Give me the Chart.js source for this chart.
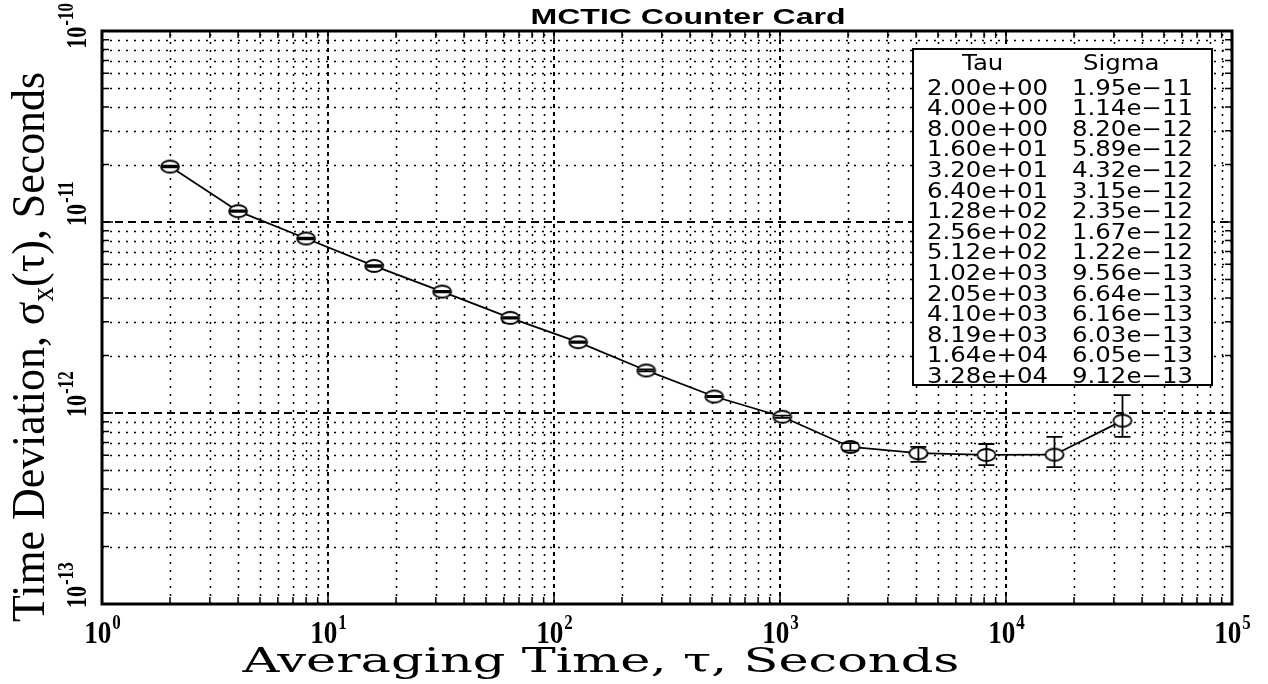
<!DOCTYPE html>
<html>
<head>
<meta charset="utf-8">
<script src="https://cdn.jsdelivr.net/npm/chart.js@4.4.0/dist/chart.umd.min.js"></script>
<style>
  html, body { margin: 0; padding: 0; background: #fff; }
  #wrap { width: 1268px; height: 684px; }
</style>
</head>
<body>
<div id="wrap"><canvas id="myChart" width="1268" height="684"></canvas></div>
<script>
// averaging times (s) and time deviation (s)
const tau = [2, 4, 8, 16, 32, 64, 128, 256, 512, 1024, 2048, 4096, 8192, 16384, 32768];
const sigma = [1.95e-11, 1.14e-11, 8.20e-12, 5.89e-12, 4.32e-12, 3.15e-12, 2.35e-12, 1.67e-12,
  1.22e-12, 9.56e-13, 6.64e-13, 6.16e-13, 6.03e-13, 6.05e-13, 9.12e-13];
// error bar ends
const sigmaHigh = [1.97e-11, 1.15e-11, 8.28e-12, 5.95e-12, 4.36e-12, 3.18e-12, 2.37e-12, 1.69e-12,
  1.23e-12, 9.70e-13, 6.95e-13, 6.65e-13, 6.88e-13, 7.49e-13, 1.24e-12];
const sigmaLow = [1.93e-11, 1.13e-11, 8.12e-12, 5.83e-12, 4.28e-12, 3.12e-12, 2.33e-12, 1.65e-12,
  1.21e-12, 9.42e-13, 6.35e-13, 5.55e-13, 5.34e-13, 5.21e-13, 7.49e-13];

// table text
const tauLabels = ["2.00e+00", "4.00e+00", "8.00e+00", "1.60e+01", "3.20e+01", "6.40e+01", "1.28e+02",
  "2.56e+02", "5.12e+02", "1.02e+03", "2.05e+03", "4.10e+03", "8.19e+03", "1.64e+04", "3.28e+04"];
const sigmaLabels = ["1.95e-11", "1.14e-11", "8.20e-12", "5.89e-12", "4.32e-12", "3.15e-12", "2.35e-12",
  "1.67e-12", "1.22e-12", "9.56e-13", "6.64e-13", "6.16e-13", "6.03e-13", "6.05e-13", "9.12e-13"];

// decade exponents on each axis
const xTickExp = [0, 1, 2, 3, 4, 5];
const yTickExp = [-13, -12, -11, -10];

const title = "MCTIC Counter Card";
const xTitle = "Averaging Time, \u03c4, Seconds";
const yTitleParts = ["Time Deviation, \u03c3", "x", "(\u03c4), Seconds"];

const SERIF = '"Liberation Serif", "Times New Roman", serif';
const WIDE_SERIF = '"DejaVu Serif", serif';

// hollow ellipse marker
function makeMarker() {
  const c = document.createElement("canvas");
  c.width = 22; c.height = 16;
  const g = c.getContext("2d");
  g.beginPath();
  g.ellipse(11, 8, 9, 6, 0, 0, Math.PI * 2);
  g.fillStyle = "#fff";
  g.fill();
  g.lineWidth = 1.8;
  g.strokeStyle = "#000";
  g.stroke();
  return c;
}

// text squeezed/stretched horizontally to a given width
function fitText(ctx, text, x, y, font, width, align) {
  ctx.save();
  ctx.font = font;
  const w = ctx.measureText(text).width;
  const s = width / w;
  let left = x;
  if (align === "center") left = x - width / 2;
  ctx.translate(left, y);
  ctx.scale(s, 1);
  ctx.textAlign = "left";
  ctx.fillText(text, 0, 0);
  ctx.restore();
}

const plotArt = {
  id: "plotArt",
  beforeDatasetsDraw(chart) {
    const { ctx, chartArea: a, scales: { x, y } } = chart;
    ctx.save();
    ctx.strokeStyle = "#000";
    // minor grid, dotted
    ctx.lineWidth = 1.5;
    ctx.setLineDash([2, 6]);
    xTickExp.slice(0, -1).forEach((e) => {
      for (let m = 2; m <= 9; m++) {
        const px = Math.round(x.getPixelForValue(m * Math.pow(10, e))) + 0.5;
        ctx.beginPath(); ctx.moveTo(px, a.bottom); ctx.lineTo(px, a.top); ctx.stroke();
      }
    });
    yTickExp.slice(0, -1).forEach((e) => {
      for (let m = 2; m <= 9; m++) {
        const py = Math.round(y.getPixelForValue(m * Math.pow(10, e))) + 0.5;
        ctx.beginPath(); ctx.moveTo(a.left, py); ctx.lineTo(a.right, py); ctx.stroke();
      }
    });
    // decade grid, dashed
    ctx.lineWidth = 2;
    ctx.setLineDash([4, 4]);
    xTickExp.slice(1, -1).forEach((e) => {
      const px = Math.round(x.getPixelForValue(Math.pow(10, e)));
      ctx.beginPath(); ctx.moveTo(px, a.bottom); ctx.lineTo(px, a.top); ctx.stroke();
    });
    ctx.setLineDash([8, 5]);
    yTickExp.slice(1, -1).forEach((e) => {
      const py = Math.round(y.getPixelForValue(Math.pow(10, e)));
      ctx.beginPath(); ctx.moveTo(a.left, py); ctx.lineTo(a.right, py); ctx.stroke();
    });
    ctx.restore();
  },
  afterDatasetsDraw(chart) {
    const { ctx, scales: { x, y } } = chart;
    ctx.save();
    ctx.strokeStyle = "#000";
    ctx.lineWidth = 1.8;
    tau.forEach((t, i) => {
      const px = x.getPixelForValue(t);
      const yh = y.getPixelForValue(sigmaHigh[i]);
      const yl = y.getPixelForValue(sigmaLow[i]);
      ctx.beginPath();
      ctx.moveTo(px, yh); ctx.lineTo(px, yl);
      ctx.moveTo(px - 8, yh); ctx.lineTo(px + 8, yh);
      ctx.moveTo(px - 8, yl); ctx.lineTo(px + 8, yl);
      ctx.stroke();
    });
    ctx.restore();
  },
  afterDraw(chart) {
    const { ctx, chartArea: a, scales: { x, y } } = chart;
    ctx.save();
    ctx.fillStyle = "#000";
    ctx.strokeStyle = "#000";

    // inward tick marks on all four sides
    ctx.lineWidth = 1.5;
    xTickExp.forEach((e, k) => {
      for (let m = 1; m <= 9; m++) {
        if (m > 1 && k === xTickExp.length - 1) break;
        const px = x.getPixelForValue(m * Math.pow(10, e));
        const len = m === 1 ? 11 : 7;
        ctx.beginPath();
        ctx.moveTo(px, a.bottom); ctx.lineTo(px, a.bottom - len);
        ctx.moveTo(px, a.top); ctx.lineTo(px, a.top + len);
        ctx.stroke();
      }
    });
    yTickExp.forEach((e, k) => {
      for (let m = 1; m <= 9; m++) {
        if (m > 1 && k === yTickExp.length - 1) break;
        const py = y.getPixelForValue(m * Math.pow(10, e));
        const len = m === 1 ? 11 : 7;
        ctx.beginPath();
        ctx.moveTo(a.left, py); ctx.lineTo(a.left + len, py);
        ctx.moveTo(a.right, py); ctx.lineTo(a.right - len, py);
        ctx.stroke();
      }
    });

    // frame
    ctx.lineWidth = 3;
    ctx.strokeRect(a.left, a.top, a.right - a.left, a.bottom - a.top);

    // x tick labels 10^n
    xTickExp.forEach((e) => {
      const px = x.getPixelForValue(Math.pow(10, e));
      ctx.font = "bold 32px " + SERIF;
      const wb = ctx.measureText("10").width * 0.85;
      ctx.font = "bold 20px " + SERIF;
      const ws = ctx.measureText(String(e)).width * 0.85;
      let left = px - (wb + ws) / 2;
      left = Math.min(left, 1262 - wb - ws);
      left = Math.max(left, 84);
      ctx.save();
      ctx.translate(left, 643);
      ctx.scale(0.85, 1);
      ctx.font = "bold 32px " + SERIF;
      ctx.fillText("10", 0, 0);
      ctx.font = "bold 20px " + SERIF;
      ctx.fillText(String(e), wb / 0.85 + 1, -14);
      ctx.restore();
    });

    // y tick labels 10^n, rotated
    yTickExp.forEach((e) => {
      const py = y.getPixelForValue(Math.pow(10, e));
      ctx.font = "bold 22px " + SERIF;
      const wb = ctx.measureText("10").width;
      ctx.font = "bold 17px " + SERIF;
      const ws = ctx.measureText(String(e)).width;
      const start = Math.max(py + 4, wb + ws + 4);
      ctx.save();
      ctx.translate(86, start);
      ctx.rotate(-Math.PI / 2);
      ctx.scale(1, 1.3);
      ctx.font = "bold 22px " + SERIF;
      ctx.fillText("10", 0, 0);
      ctx.font = "bold 17px " + SERIF;
      ctx.fillText(String(e), wb + 1, -10);
      ctx.restore();
    });

    // x axis title
    fitText(ctx, xTitle, 601, 672, "34px " + WIDE_SERIF, 717, "center");

    // y axis title, rotated with subscript
    ctx.save();
    ctx.font = "36px " + SERIF;
    const w1 = ctx.measureText(yTitleParts[0]).width;
    const w3 = ctx.measureText(yTitleParts[2]).width;
    ctx.font = "24px " + SERIF;
    const w2 = ctx.measureText(yTitleParts[1]).width;
    const total = w1 + w2 + w3;
    const sLen = 550 / total;
    ctx.translate(44, 622);
    ctx.rotate(-Math.PI / 2);
    ctx.scale(sLen, 1.3);
    ctx.font = "36px " + SERIF;
    ctx.fillText(yTitleParts[0], 0, 0);
    ctx.font = "24px " + SERIF;
    ctx.fillText(yTitleParts[1], w1, 7);
    ctx.font = "36px " + SERIF;
    ctx.fillText(yTitleParts[2], w1 + w2, 0);
    ctx.restore();

    // title
    fitText(ctx, title, 688, 24, 'bold 22px "Liberation Sans", Arial, sans-serif', 315, "center");

    // value table
    const bx = 913, by = 49, bw = 299, bh = 336;
    ctx.fillStyle = "#fff";
    ctx.fillRect(bx, by, bw, bh);
    ctx.lineWidth = 2;
    ctx.strokeRect(bx, by, bw, bh);
    ctx.fillStyle = "#000";
    const tFont = '21px "DejaVu Sans", sans-serif';
    ctx.font = tFont;
    const sx = 121 / ctx.measureText(tauLabels[0]).width;
    const put = (txt, lx, base) => {
      ctx.save();
      ctx.translate(lx, base);
      ctx.scale(sx, 1);
      ctx.font = tFont;
      ctx.fillText(txt, 0, 0);
      ctx.restore();
    };
    put("Tau", 962, 70);
    put("Sigma", 1083, 70);
    tauLabels.forEach((t, i) => {
      const base = 94.5 + i * 20.6;
      put(t, 927, base);
      put(sigmaLabels[i].replace("-", "\u2212"), 1072, base);
    });

    ctx.restore();
  },
};

new Chart(document.getElementById("myChart"), {
  type: "line",
  data: {
    datasets: [
      {
        data: tau.map((t, i) => ({ x: t, y: sigma[i] })),
        borderColor: "#000",
        borderWidth: 1.8,
        pointStyle: makeMarker(),
        tension: 0,
      },
    ],
  },
  options: {
    responsive: false,
    animation: false,
    layout: { padding: { left: 102, top: 31, right: 36, bottom: 80 } },
    plugins: { legend: { display: false }, tooltip: { enabled: false } },
    scales: {
      x: { type: "logarithmic", min: 1, max: 1e5, display: false },
      y: { type: "logarithmic", min: 1e-13, max: 1e-10, display: false },
    },
  },
  plugins: [plotArt],
});
</script>
</body>
</html>
